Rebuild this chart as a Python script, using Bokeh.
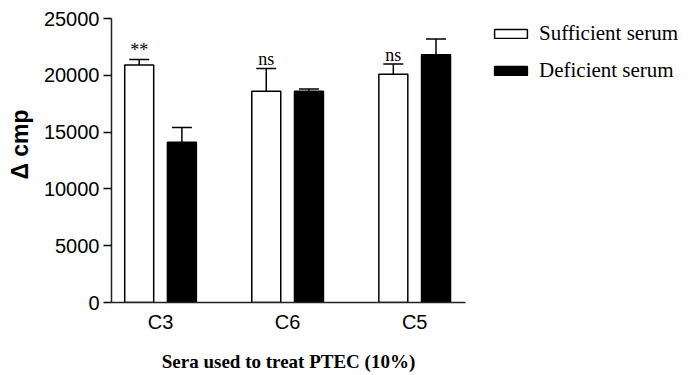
from bokeh.plotting import figure
from bokeh.models import (ColumnDataSource, Range1d, FixedTicker, Whisker, Legend,
                          LegendItem, TeeHead)
from bokeh.transform import dodge
from bokeh.core.properties import value
from bokeh.embed import file_html
from bokeh.resources import INLINE

categories = ["C3", "C6", "C5"]
sufficient = [20900, 18600, 20100]
sufficient_err = [21400, 20600, 21000]
deficient = [14100, 18600, 21800]
deficient_err = [15400, 18800, 23200]
significance = ["**", "ns", "ns"]
y_ticks = [0, 5000, 10000, 15000, 20000, 25000]

src = ColumnDataSource(dict(
    x=list(range(len(categories))),
    suff=sufficient, suff_err=sufficient_err,
    defi=deficient, defi_err=deficient_err,
    sig=significance,
))

p = figure(frame_width=354, frame_height=284, output_backend="svg", toolbar_location=None,
           x_range=Range1d(-0.386, 2.40), y_range=Range1d(0, 25000),
           min_border_left=111, min_border_right=0, min_border_top=18,
           min_border_bottom=50)
p.outline_line_color = None
p.grid.grid_line_color = None
p.background_fill_color = "white"

off = 0.168
bw = 0.228
r1 = p.vbar(x=dodge("x", -off), top="suff", width=bw, source=src,
            fill_color="white", line_color="black", line_width=1.5)
r2 = p.vbar(x=dodge("x", off), top="defi", width=bw, source=src,
            fill_color="black", line_color="black", line_width=1.5)

for top, err, d in [("suff", "suff_err", -off), ("defi", "defi_err", off)]:
    w = Whisker(base=dodge("x", d), upper=err, lower=top, source=src,
                line_color="black", line_width=1.5, lower_head=None,
                upper_head=TeeHead(size=20, line_color="black", line_width=1.5))
    p.add_layout(w)

p.text(x=dodge("x", -off), y="suff_err", text="sig", source=src,
       text_align="center", text_baseline="alphabetic", y_offset=-9,
       text_font=value("Liberation Serif"), text_font_size="18px", text_color="black")

# axes
p.xaxis.ticker = FixedTicker(ticks=list(range(len(categories))))
p.xaxis.major_label_overrides = {i: c for i, c in enumerate(categories)}
p.xaxis.major_tick_line_color = None
p.xaxis.minor_tick_line_color = None
p.xaxis.major_label_standoff = 2
p.xaxis.major_label_text_font = "Liberation Sans"
p.xaxis.major_label_text_font_size = "20px"
p.xaxis.major_label_text_color = "black"
p.xaxis.axis_label = "Sera used to treat PTEC (10%)"
p.xaxis.axis_label_text_font = "Liberation Serif"
p.xaxis.axis_label_text_font_style = "bold"
p.xaxis.axis_label_text_font_size = "19px"
p.xaxis.axis_label_text_color = "black"
p.xaxis.axis_label_standoff = 15
p.xaxis.axis_line_width = 1.5
p.xaxis.axis_line_color = "#222222"

p.yaxis.ticker = FixedTicker(ticks=y_ticks)
p.yaxis.minor_tick_line_color = None
p.yaxis.major_tick_in = 0
p.yaxis.major_tick_out = 8
p.yaxis.major_tick_line_width = 1.5
p.yaxis.major_label_standoff = 4
p.yaxis.major_label_text_font = "Liberation Sans"
p.yaxis.major_label_text_font_size = "20px"
p.yaxis.major_label_text_color = "black"
p.yaxis.axis_label = "\u00a0\u00a0\u00a0\u00a0\u00a0Δ cmp"
p.yaxis.axis_label_text_font = "Liberation Sans"
p.yaxis.axis_label_text_font_style = "bold"
p.yaxis.axis_label_text_font_size = "23px"
p.yaxis.axis_label_text_color = "black"
p.yaxis.axis_label_standoff = 8
p.yaxis.axis_line_width = 1.5
p.yaxis.axis_line_color = "#222222"

legend = Legend(items=[LegendItem(label="Sufficient serum", renderers=[r1]),
                       LegendItem(label="Deficient serum", renderers=[r2])],
                location=(25, 219), margin=0, padding=0,
                glyph_width=41, glyph_height=11, label_standoff=8, spacing=12,
                label_text_font="Liberation Serif", label_text_font_size="21px",
                label_text_color="black", border_line_color=None,
                background_fill_alpha=0)
p.add_layout(legend, "right")

open("out.html", "w").write(file_html(p, INLINE))
